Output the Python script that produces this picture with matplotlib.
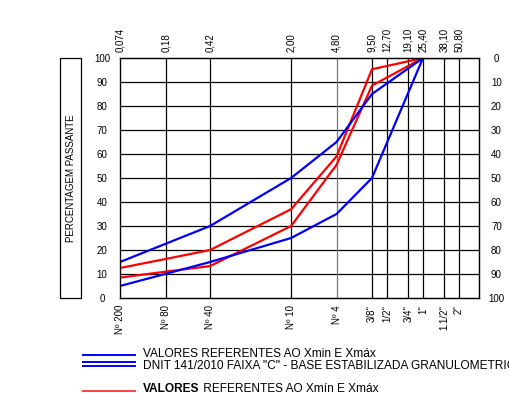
import matplotlib.pyplot as plt
from matplotlib.lines import Line2D
from matplotlib.patches import Rectangle

plt.rcParams['font.family'] = ['Liberation Sans', 'DejaVu Sans']

# sieve openings (mm) and names
sieves = [0.074, 0.18, 0.42, 2.00, 4.80, 9.50, 12.70, 19.10, 25.40, 38.10, 50.80]
top_labels = ['0,074', '0,18', '0,42', '2,00', '4,80', '9,50', '12,70', '19,10', '25,40', '38,10', '50,80']
bottom_labels = ['Nº 200', 'Nº 80', 'Nº 40', 'Nº 10', 'Nº 4', '3/8"', '1/2"', '3/4"', '1"', '1.1/2"', '2"']

# DNIT 141/2010 faixa C limits
band_x = [0.074, 0.42, 2.00, 4.80, 9.50, 25.40, 50.80]
band_min = [5, 15, 25, 35, 50, 100, 100]
band_max = [15, 30, 50, 65, 85, 100, 100]

# Xmin / Xmax of the samples
samp_x = [0.074, 0.18, 0.42, 2.00, 4.80, 9.50, 25.40]
samp_min = [8.5, 11, 13.3, 30, 55.5, 88.5, 100]
samp_max = [12.5, 16.3, 20, 37, 59, 95.3, 100]

W, H = 509, 393
fig = plt.figure(figsize=(W / 100, H / 100), dpi=100)
ax = fig.add_axes([120 / W, 1 - 298 / H, 359 / W, 240 / H])

ax.set_xscale('log')
ax.set_xlim(0.074, 74.7)
ax.set_ylim(0, 100)

# grid
for y in range(10, 100, 10):
    ax.axhline(y, color='black', lw=0.9, zorder=1)
for s in sieves[1:]:
    c = '#777777' if s == 4.80 else 'black'
    ax.axvline(s, color=c, lw=0.9, zorder=1)

ax.plot(band_x, band_max, color='#0000ff', lw=1.6, zorder=3)
ax.plot(band_x, band_min, color='#0000ff', lw=1.6, zorder=3)
ax.plot(samp_x, samp_max, color='#ff0000', lw=1.6, zorder=2)
ax.plot(samp_x, samp_min, color='#ff0000', lw=1.6, zorder=2)

for sp in ax.spines.values():
    sp.set_linewidth(0.9)
ax.spines['left'].set_color('#777777')

ax.set_xticks(sieves)
ax.set_xticklabels(bottom_labels, rotation=90, fontsize=7)
ax.xaxis.set_minor_locator(plt.NullLocator())
ax.set_yticks(range(0, 101, 10))
ax.tick_params(axis='y', length=0, labelsize=7, pad=13)
ax.tick_params(axis='x', length=0, pad=5)
for lab in ax.get_yticklabels():
    lab.set_horizontalalignment('center')

axt = ax.twiny()
axt.set_xscale('log')
axt.set_xlim(ax.get_xlim())
axt.set_xticks(sieves)
axt.set_xticklabels(top_labels, rotation=90, fontsize=7)
axt.xaxis.set_minor_locator(plt.NullLocator())
axt.tick_params(axis='x', length=0, pad=4)

axr = ax.twinx()
axr.set_ylim(100, 0)
axr.set_yticks(range(0, 101, 10))
axr.tick_params(axis='y', length=0, labelsize=7, pad=12.5)
for lab in axr.get_yticklabels():
    lab.set_horizontalalignment('center')

# y label box
fig.add_artist(Rectangle((60 / W, 1 - 298 / H), 21 / W, 240 / H, transform=fig.transFigure,
                         fill=False, edgecolor='black', lw=0.9))
fig.text(70.5 / W, 1 - 178 / H, 'PERCENTAGEM PASSANTE', rotation=90, ha='center', va='center', fontsize=7)

# legend
def hline(y, color):
    fig.add_artist(Line2D([83 / W, 135 / W], [1 - y / H, 1 - y / H], color=color, lw=1.4,
                          transform=fig.transFigure))

hline(355, '#0000ff')
hline(362, '#0000ff')
hline(365.5, '#0000ff')
hline(391, '#ff4040')
fs = 8.6
fig.text(143 / W, 1 - 354 / H, 'VALORES REFERENTES AO Xmin E Xmáx', fontsize=fs, va='center')
fig.text(143 / W, 1 - 366 / H, 'DNIT 141/2010 FAIXA "C" - BASE ESTABILIZADA GRANULOMETRICAMENTE',
         fontsize=fs, va='center')
t = fig.text(143 / W, 1 - 389 / H, 'VALORES', fontsize=fs, va='center', fontweight='bold')
ax.annotate(' REFERENTES AO Xmín E Xmáx', xy=(1, 0.5), xycoords=t, va='center', ha='left',
            fontsize=fs, annotation_clip=False)

fig.savefig('out.png', dpi=100)
